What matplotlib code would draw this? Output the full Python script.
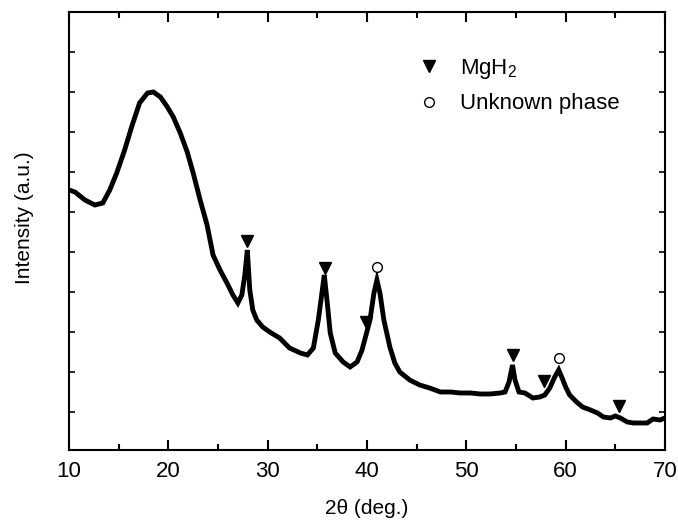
import matplotlib
matplotlib.use('Agg')
import matplotlib.pyplot as plt
from matplotlib.ticker import MultipleLocator

plt.rcParams['font.family'] = ['Liberation Sans', 'DejaVu Sans']
plt.rcParams['mathtext.default'] = 'regular'

# XRD pattern (2theta in deg, intensity in a.u.)
two_theta = [10.0, 10.6, 11.6, 12.6, 13.4, 14.1, 14.8, 15.6, 16.3, 17.1,
             17.9, 18.5, 19.2, 19.9, 20.5, 21.2, 21.9, 22.5, 23.2, 23.9,
             24.5, 25.2, 25.9, 26.5, 27.0, 27.4, 27.7, 27.95, 28.2, 28.5,
             28.9, 29.5, 30.2, 31.2, 32.2, 33.3, 34.0, 34.6, 35.1, 35.5,
             35.7, 36.0, 36.3, 36.8, 37.6, 38.3, 39.0, 39.5, 39.9, 40.3,
             40.7, 41.0, 41.3, 41.7, 42.3, 42.8, 43.3, 44.3, 45.3, 46.3,
             47.4, 48.4, 49.4, 50.4, 51.4, 52.4, 53.4, 53.9, 54.3, 54.65,
             54.9, 55.3, 55.9, 56.7, 57.4, 57.9, 58.4, 58.9, 59.3, 59.6,
             60.0, 60.4, 61.1, 61.7, 62.5, 63.2, 63.8, 64.5, 65.0, 65.5,
             66.2, 66.8, 67.5, 68.2, 68.8, 69.5, 70.0]
intensity = [2620, 2600, 2520, 2470, 2490, 2620, 2790, 3020, 3250, 3490,
             3590, 3600, 3550, 3450, 3350, 3190, 3000, 2790, 2520, 2270,
             1970, 1820, 1690, 1570, 1490, 1570, 1770, 2020, 1620, 1420,
             1320, 1250, 1200, 1140, 1040, 990, 970, 1040, 1320, 1620,
             1770, 1490, 1190, 990, 900, 850, 900, 1020, 1170, 1320,
             1590, 1720, 1590, 1320, 1050, 890, 800, 720, 670, 640,
             600, 600, 590, 590, 580, 580, 590, 600, 700, 870,
             720, 600, 590, 540, 550, 570, 640, 750, 820, 750,
             650, 570, 500, 450, 420, 390, 350, 340, 360, 340,
             300, 290, 290, 290, 330, 320, 340]

# peak markers
mgh2_x = [27.9, 35.8, 39.9, 54.7, 57.8, 65.4]
mgh2_y = [2110, 1840, 1300, 970, 710, 460]
unknown_x = [41.0, 59.3]
unknown_y = [1850, 940]

fig = plt.figure(figsize=(6.78, 5.25), dpi=100)
ax = fig.add_axes([0.1018, 0.1429, 0.879, 0.8342])

ax.plot(two_theta, intensity, color='black', linewidth=3.5, solid_joinstyle='miter')
ax.plot(mgh2_x, mgh2_y, linestyle='none', marker='v', color='black', markersize=9,
        label='MgH$_2$')
ax.plot(unknown_x, unknown_y, linestyle='none', marker='o', markerfacecolor='white',
        markeredgecolor='black', markeredgewidth=1.0, markersize=7, label='Unknown phase')

ax.set_xlim(10, 70)
ax.set_ylim(20, 4400)
ax.xaxis.set_major_locator(MultipleLocator(10))
ax.xaxis.set_minor_locator(MultipleLocator(5))
ax.yaxis.set_major_locator(MultipleLocator(400))
ax.set_yticklabels([])
ax.tick_params(axis='x', which='major', direction='in', length=7, width=1.5,
               top=True, labelsize=16, pad=8)
ax.tick_params(axis='x', which='minor', direction='in', length=4, width=1.5, top=True)
ax.tick_params(axis='y', which='major', direction='in', length=4, width=1.2, right=True)
for s in ax.spines.values():
    s.set_linewidth(1.5)

ax.set_xlabel('2θ (deg.)', fontsize=15, labelpad=12)
ax.set_ylabel('Intensity (a.u.)', fontsize=15)
ax.yaxis.set_label_coords(-0.058, 0.53)

ax.legend(loc='upper left', bbox_to_anchor=(0.571, 0.917), frameon=False, fontsize=16,
          handlelength=1.0, handletextpad=0.9, labelspacing=0.55, borderaxespad=0)

fig.savefig('out.png', dpi=100)
